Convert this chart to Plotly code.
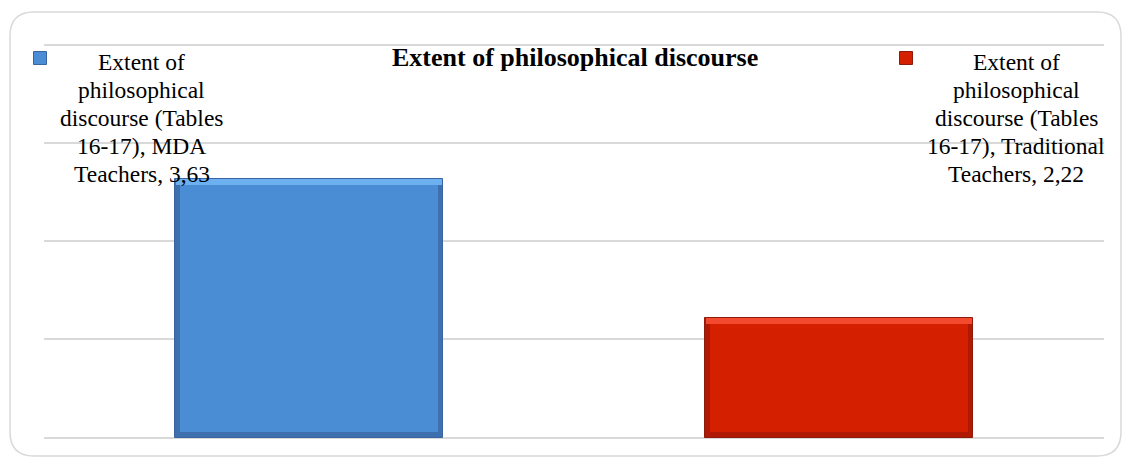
import plotly.graph_objects as go

# ---- data ----
series_name = "Extent of philosophical discourse (Tables 16-17)"
categories = ["MDA Teachers", "Traditional Teachers"]
values = [3.63, 2.22]
main_colors = ["#4b8dd4", "#d41f00"]
light_colors = ["#6cb0ef", "#f2492f"]
shade_colors = ["#3e70ad", "#b01a04"]
edge_colors = ["#3a64a0", "#8e1a0c"]
title_text = "Extent of philosophical discourse"

OFF = 8  # page body margin
W, H = 1131 - 2 * OFF, 465 - 2 * OFF
L, R, T, B = 36, 19, 34, 18
PW, PH = W - L - R, H - T - B
Y_RANGE = [0.9847, 5.0306]
BAR_W = 0.504
BEV_Y = 0.06     # bevel thickness in axis units (vertical)
BEV_X = 0.0095   # bevel thickness in category units (horizontal)

def px(x):  # screen x -> paper
    return (x - OFF - L) / PW

def py(y):  # screen y -> paper
    return (H - B - (y - OFF)) / PH

fig = go.Figure()
# body (shaded edges)
fig.add_trace(go.Bar(
    x=categories, y=[v - 1 for v in values], base=1,
    marker=dict(color=shade_colors, line=dict(color=edge_colors, width=1)),
    width=BAR_W, showlegend=False, hoverinfo="skip",
))
# top highlight bevel
fig.add_trace(go.Bar(
    x=categories, y=[BEV_Y] * len(values), base=[v - BEV_Y for v in values],
    marker=dict(color=light_colors, line=dict(width=0)),
    width=BAR_W - 0.002, showlegend=False, hoverinfo="skip",
))
# main face
fig.add_trace(go.Bar(
    x=categories, y=[v - 1 - 2 * BEV_Y for v in values], base=1 + BEV_Y,
    marker=dict(color=main_colors, line=dict(width=0)),
    width=BAR_W - 2 * BEV_X, showlegend=False, hoverinfo="skip",
))

def label_lines(cat, v):
    first, second = cat.split(" ")
    vs = f"{v:.2f}".replace(".", ",")
    return ["Extent of", "philosophical", "discourse (Tables",
            f"16-17), {first}", f"{second}, {vs}"]

FS = 23.5
LINE = 27.9
FIRST_BASE = 72
annotations = []
shapes = []
key_x = [40, 906]
text_x = [141.5, 1016]
for i, (cat, v) in enumerate(zip(categories, values)):
    for j, line in enumerate(label_lines(cat, v)):
        annotations.append(dict(
            text=line, xref="paper", yref="paper",
            x=px(text_x[i]), y=py(FIRST_BASE + j * LINE - FS - 0.5),
            xanchor="center", yanchor="top",
            showarrow=False, align="center", borderpad=0,
            font=dict(family="Liberation Serif", size=FS, color="#000000"),
        ))
    shapes.append(dict(
        type="rect", xref="paper", yref="paper",
        x0=px(key_x[i] - 6.5), x1=px(key_x[i] + 6.5),
        y0=py(64.5), y1=py(51.5),
        fillcolor=main_colors[i], line=dict(color=edge_colors[i], width=1),
    ))

annotations.append(dict(
    text=f"<b>{title_text}</b>", xref="paper", yref="paper",
    x=px(575), y=py(41), xanchor="center", yanchor="top", showarrow=False,
    font=dict(family="Liberation Serif", size=26, color="#000000"),
))

# rounded outer border
x0, y0, x1, y1, r = 10, 12, 1121, 456, 24
def P(x, y):
    return f"{px(x)},{py(y)}"
path = (f"M {P(x0 + r, y0)} L {P(x1 - r, y0)} Q {P(x1, y0)} {P(x1, y0 + r)} "
        f"L {P(x1, y1 - r)} Q {P(x1, y1)} {P(x1 - r, y1)} "
        f"L {P(x0 + r, y1)} Q {P(x0, y1)} {P(x0, y1 - r)} "
        f"L {P(x0, y0 + r)} Q {P(x0, y0)} {P(x0 + r, y0)} Z")
shapes.append(dict(type="path", xref="paper", yref="paper", path=path,
                   line=dict(color="#d9d9d9", width=1.5), layer="below"))

fig.update_layout(
    width=W, height=H,
    margin=dict(l=L, r=R, t=T, b=B, pad=0),
    paper_bgcolor="white", plot_bgcolor="white",
    barmode="overlay",
    xaxis=dict(showticklabels=False, showgrid=False, zeroline=False, showline=False,
               ticks=""),
    yaxis=dict(range=Y_RANGE, tickvals=[1, 2, 3, 4, 5], showticklabels=False,
               showgrid=True, gridcolor="#d9d9d9", gridwidth=1.5, zeroline=False,
               showline=False, ticks=""),
    shapes=shapes, annotations=annotations,
    bargap=0,
)

fig.write_html("out.html")
